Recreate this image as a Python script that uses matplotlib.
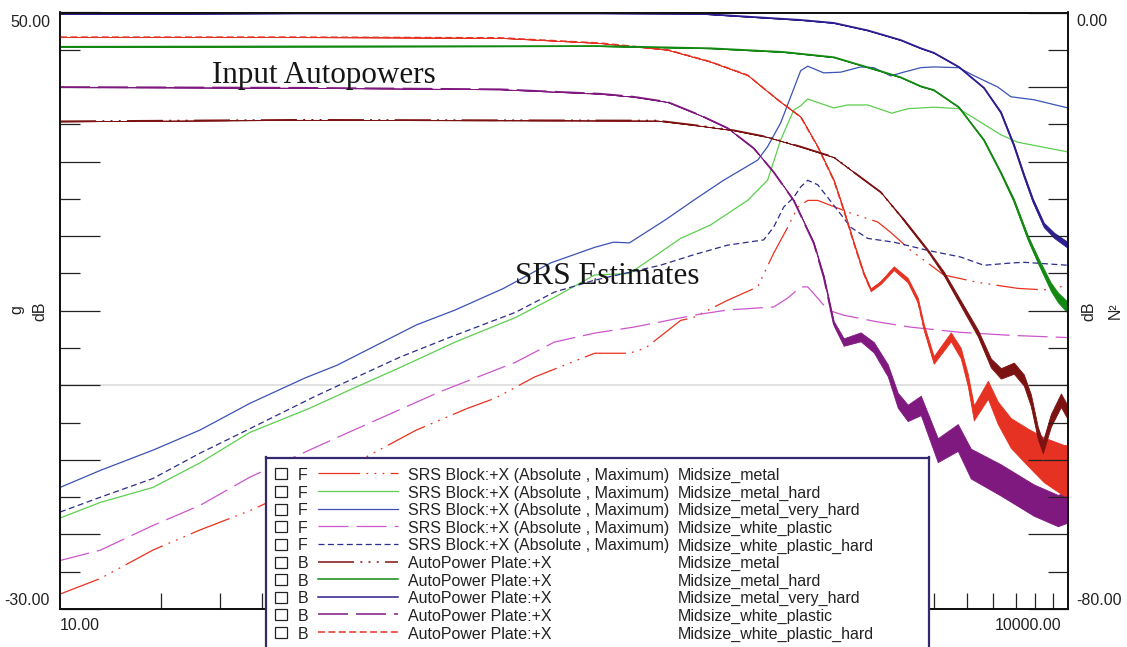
import numpy as np
import matplotlib
matplotlib.use("Agg")
import matplotlib.pyplot as plt
from matplotlib.ticker import FixedLocator, NullFormatter
from matplotlib.patches import Rectangle

plt.rcParams['font.family'] = ['Liberation Sans', 'DejaVu Sans']
plt.rcParams['lines.scale_dashes'] = False

# ---------------- SRS estimates (left axis, dB re g) ----------------
srs_metal_hz = [10, 13.2, 18.9, 26.1, 36.8, 80, 115, 163, 198, 258, 390, 495, 553, 703, 768,
                970, 1192, 1330, 1465, 1569, 1680, 1799, 2256, 2716, 2968, 3404, 4269, 5391,
                7089, 8475, 10000]
srs_metal_db = [-28.0, -25.9, -22.1, -19.4, -16.8, -9.8, -6.0, -3.1, -1.7, 1.1, 4.3, 4.3, 5.0,
                8.7, 9.1, 11.4, 13.2, 17.7, 21.2, 23.9, 24.8, 24.8, 23.1, 21.9, 20.5, 18.1,
                14.8, 13.8, 13.0, 12.8, 13.4]

srs_metal_hard_hz = [10, 13.2, 18.9, 26.1, 36.8, 55.2, 72.6, 103, 150, 227, 296, 390, 495, 584,
                     703, 863, 1113, 1276, 1396, 1526, 1601, 1680, 2008, 2210, 2535, 2989, 3334,
                     3647, 3985, 4732, 6312, 7089, 8303, 10000]
srs_metal_hard_db = [-17.8, -15.7, -13.7, -10.4, -6.3, -3.1, -0.65, 2.4, 5.8, 9.1, 11.8, 14.8,
                     15.0, 17.2, 19.7, 21.5, 24.8, 27.5, 32.9, 36.9, 37.5, 38.4, 37.2, 37.6,
                     37.6, 36.5, 37.1, 37.2, 37.3, 37.1, 33.6, 32.6, 32.0, 31.3]

srs_very_hard_hz = [10, 13.2, 18.9, 26.1, 36.8, 53.7, 66.8, 115, 150, 209, 288, 390, 444, 495,
                    634, 768, 944, 1192, 1276, 1396, 1495, 1601, 1680, 1875, 2107, 2415, 2642,
                    2968, 3244, 3647, 3985, 4732, 5209, 6183, 6760, 7913, 10000]
srs_very_hard_db = [-13.7, -11.4, -8.7, -6.0, -2.4, 1.0, 2.7, 8.1, 10.1, 13.0, 16.4, 18.5, 19.2,
                    19.1, 22.2, 24.8, 27.5, 30.2, 32.0, 35.2, 38.7, 42.2, 42.8, 41.9, 42.0, 42.7,
                    42.6, 41.5, 42.0, 42.6, 42.7, 42.6, 41.6, 40.0, 38.7, 38.3, 37.2]

srs_white_plastic_hz = [10, 13.2, 18.9, 26.1, 36.8, 66.8, 134.6, 227, 296, 390, 509, 612, 768,
                        970, 1217, 1330, 1465, 1601, 1680, 1799, 1927, 2150, 2716, 3404, 4797,
                        6760, 10000]
srs_white_plastic_db = [-23.5, -22.1, -18.8, -16.1, -12.3, -7.0, -0.9, 3.1, 5.8, 7.0, 7.8, 8.5,
                        9.4, 10.1, 10.4, 10.5, 11.7, 13.2, 13.2, 11.7, 10.1, 9.4, 8.5, 7.8, 7.1,
                        6.7, 6.4]

srs_white_plastic_hard_hz = [10, 13.2, 18.9, 26.1, 36.8, 56.7, 70.6, 103, 142, 227, 296, 390,
                             612, 768, 970, 1242, 1330, 1425, 1526, 1601, 1680, 1799, 1927,
                             2256, 2535, 3030, 3823, 4797, 5618, 6760, 7388, 10000]
srs_white_plastic_hard_db = [-17.0, -15.0, -12.5, -9.1, -5.8, -1.6, 0.4, 3.8, 6.3, 9.8, 12.5,
                             14.1, 16.1, 17.5, 18.8, 19.5, 21.2, 23.9, 25.2, 26.6, 27.5, 26.9,
                             25.2, 21.2, 19.7, 19.2, 18.1, 17.2, 16.1, 16.4, 16.5, 16.1]

# ---------------- Input autopowers (right axis, dB re N^2) ----------------
ap_metal_hz = [10, 52, 600, 806, 1011, 1276, 1601, 2008, 2415, 2772, 3244, 3823, 4269, 4797,
               5391, 5894, 6312, 6900, 7388, 7752, 8133, 8417, 8892, 9524, 10000]
ap_metal_db = [-14.6, -14.4, -14.5, -15.2, -15.8, -16.7, -18.0, -19.4, -22.1, -24.1, -27.8,
               -31.9, -35.0, -39.0, -43.0, -47.0, -48.4, -47.7, -49.3, -52.0, -56.4, -58.3,
               -54.7, -52.0, -53.7]
ap_metal_spread = [0, 0, 0, 0, 0, 0, 0, 0, 0, 0, 0.1, 0.15, 0.25, 0.35, 0.45, 0.6, 0.7, 0.75,
                   0.75, 0.8, 0.8, 0.8, 0.85, 0.9, 0.9]

ap_metal_hard_hz = [10, 400, 863, 1425, 2008, 2830, 3178, 3647, 3985, 4732, 5618, 6312, 6900,
                    7593, 8133, 8892, 9330, 10000]
ap_metal_hard_db = [-4.6, -4.5, -4.8, -5.3, -6.0, -8.0, -8.7, -9.9, -10.4, -12.7, -17.1, -21.5,
                    -25.2, -30.2, -33.2, -36.8, -38.2, -39.6]
ap_metal_hard_spread = [0, 0, 0, 0, 0, 0, 0, 0, 0, 0, 0.05, 0.1, 0.2, 0.3, 0.4, 0.55, 0.65, 0.75]

ap_very_hard_hz = [10, 50, 400, 800, 1061, 1601, 2008, 2535, 3178, 3647, 3985, 4732, 5618, 6312,
                   6900, 7388, 7860, 8475, 9100, 10000]
ap_very_hard_db = [-0.2, -0.1, -0.1, -0.15, -0.5, -1.0, -1.4, -2.4, -3.7, -4.8, -5.4, -7.3,
                   -10.1, -13.4, -17.8, -21.8, -25.2, -28.5, -29.9, -31.2]
ap_very_hard_spread = [0, 0, 0, 0, 0, 0, 0, 0, 0, 0, 0, 0, 0, 0.1, 0.15, 0.2, 0.25, 0.3, 0.35, 0.4]

ap_white_plastic_hz = [10, 52, 204, 406, 509, 643, 806, 970, 1160, 1330, 1526, 1750, 1875, 2008,
                       2150, 2415, 2642, 2908, 3114, 3334, 3647, 4096, 4699, 5138, 6312, 7913,
                       9330, 10000]
ap_white_plastic_db = [-10.0, -10.1, -10.3, -10.9, -11.3, -12.0, -13.8, -15.5, -18.2, -21.4,
                       -25.2, -30.9, -35.5, -41.7, -44.2, -43.5, -44.9, -48.0, -52.0, -53.7,
                       -52.7, -58.7, -57.0, -60.5, -62.7, -65.4, -66.8, -66.3]
ap_white_plastic_spread = [0, 0, 0, 0, 0, 0, 0, 0, 0, 0, 0, 0.1, 0.2, 0.3, 0.5, 0.6, 0.7, 0.8,
                           1.0, 1.1, 1.3, 1.6, 1.8, 2.0, 2.1, 2.1, 2.1, 2.1]

ap_white_plastic_hard_hz = [10, 52, 204, 406, 643, 863, 1113, 1368, 1601, 1799, 2008, 2150, 2303,
                            2466, 2588, 2772, 3030, 3334, 3572, 3722, 3985, 4479, 4797, 5033,
                            5245, 5774, 6183, 6760, 7593, 8475, 9721, 10000]
ap_white_plastic_hard_db = [-3.3, -3.3, -3.4, -4.1, -5.0, -6.6, -8.4, -11.7, -14.0, -18.0,
                            -22.5, -26.5, -30.9, -35.0, -37.2, -36.2, -34.3, -35.9, -38.6, -42.2,
                            -46.6, -43.5, -45.7, -49.3, -53.7, -50.6, -53.7, -56.4, -58.3,
                            -60.0, -61.4, -61.4]
ap_white_plastic_hard_spread = [0, 0, 0, 0, 0, 0, 0, 0, 0, 0, 0.1, 0.1, 0.12, 0.15, 0.18, 0.2,
                                0.25, 0.3, 0.35, 0.4, 0.5, 0.6, 0.7, 0.8, 1.0, 1.2, 1.5, 2.0,
                                2.5, 3.0, 3.4, 3.4]

specimens = ["Midsize_metal", "Midsize_metal_hard", "Midsize_metal_very_hard",
             "Midsize_white_plastic", "Midsize_white_plastic_hard"]
srs_name = "SRS Block:+X (Absolute , Maximum)"
ap_name = "AutoPower Plate:+X"

x_ticks_minor = [20, 30, 40, 50, 60, 70, 80, 90, 200, 300, 400, 500, 600, 700, 800, 900,
                 2000, 3000, 4000, 5000, 6000, 7000, 8000, 9000]
x_ticks_major = [100, 1000]

# ---------------- styles ----------------
DASHDOTDOT_S = (30, 4.5, 1.3, 4.5, 1.3, 4.5, 1.3, 4.5)
DASHDOTDOT_B = (26, 4.5, 1.4, 4.5, 1.4, 4.5, 1.4, 4.5)
LONGDASH = (21.6, 5.8)
SHORTDASH_S = (4.3, 2.5)
SHORTDASH_B = (5.0, 2.5)

srs_styles = [
    dict(color='#e8321e', lw=0.9, dashes=DASHDOTDOT_S),
    dict(color='#5ccf4e', lw=0.9, dashes=None),
    dict(color='#3b52b4', lw=0.9, dashes=None),
    dict(color='#cc55cc', lw=0.9, dashes=LONGDASH),
    dict(color='#2c2c8c', lw=0.9, dashes=SHORTDASH_S),
]
ap_styles = [
    dict(color='#7d1212', lw=1.3, dashes=DASHDOTDOT_B),
    dict(color='#138913', lw=1.3, dashes=None),
    dict(color='#2d1f8f', lw=1.3, dashes=None),
    dict(color='#80197f', lw=1.3, dashes=LONGDASH),
    dict(color='#e53222', lw=1.1, dashes=SHORTDASH_B),
]

srs_series = [(srs_metal_hz, srs_metal_db), (srs_metal_hard_hz, srs_metal_hard_db),
              (srs_very_hard_hz, srs_very_hard_db), (srs_white_plastic_hz, srs_white_plastic_db),
              (srs_white_plastic_hard_hz, srs_white_plastic_hard_db)]
ap_series = [(ap_metal_hz, ap_metal_db, ap_metal_spread),
             (ap_metal_hard_hz, ap_metal_hard_db, ap_metal_hard_spread),
             (ap_very_hard_hz, ap_very_hard_db, ap_very_hard_spread),
             (ap_white_plastic_hz, ap_white_plastic_db, ap_white_plastic_spread),
             (ap_white_plastic_hard_hz, ap_white_plastic_hard_db, ap_white_plastic_hard_spread)]


def line_kw(st):
    kw = dict(color=st['color'], lw=st['lw'])
    if st['dashes'] is not None:
        kw['dashes'] = st['dashes']
    return kw


W, H = 1127, 647
fig = plt.figure(figsize=(W / 100, H / 100), dpi=100)


def fxy(x, y):
    return x / W, 1 - y / H


AX_L, AX_R, AX_T, AX_B = 60, 1068, 12.5, 609
ax = fig.add_axes([AX_L / W, (H - AX_B) / H, (AX_R - AX_L) / W, (AX_B - AX_T) / H])
ax.set_xscale('log')
ax.set_xlim(10, 10000)
ax.set_ylim(-30, 50)
ax2 = ax.twinx()
ax2.set_ylim(-80, 0)

# reference line at 0 dB (left scale)
ax.axhline(0, color='#dddddd', lw=1.2, zorder=0)

for (hz, db), st in zip(srs_series, srs_styles):
    ax.plot(hz, db, solid_capstyle='butt', dash_capstyle='butt', **line_kw(st))

draw_order = [3, 4, 0, 1, 2]
for i in draw_order:
    hz, db, sp = ap_series[i]
    st = ap_styles[i]
    hz = np.array(hz, float)
    db = np.array(db, float)
    sp = np.array(sp, float)
    ax2.plot(hz, db, dash_capstyle='butt', **line_kw(st))
    ax2.fill_between(hz, db - sp, db + sp, color=st['color'], lw=0.6, edgecolor=st['color'])

# axes frame and ticks
for a in (ax, ax2):
    for s in a.spines.values():
        s.set_linewidth(1.3)
        s.set_color('#111111')

ax.yaxis.set_major_locator(FixedLocator(np.arange(-30, 51, 10)))
ax.yaxis.set_minor_locator(FixedLocator(np.arange(-25, 50, 10)))
ax.tick_params(axis='y', which='major', direction='in', length=28.8, width=0.9,
               color='#222222', left=True, right=False, labelleft=False)
ax.tick_params(axis='y', which='minor', direction='in', length=14.4, width=0.9,
               color='#222222', left=True, right=False)
ax2.yaxis.set_major_locator(FixedLocator(np.arange(-80, 1, 10)))
ax2.yaxis.set_minor_locator(FixedLocator(np.arange(-75, 0, 10)))
ax2.tick_params(axis='y', which='major', direction='in', length=28.8, width=0.9,
                color='#222222', right=True, left=False, labelright=False)
ax2.tick_params(axis='y', which='minor', direction='in', length=14.4, width=0.9,
                color='#222222', right=True, left=False)
ax.xaxis.set_major_locator(FixedLocator(x_ticks_major))
ax.xaxis.set_minor_locator(FixedLocator(x_ticks_minor))
ax.xaxis.set_minor_formatter(NullFormatter())
ax.tick_params(axis='x', which='both', direction='in', length=11.5, width=0.9,
               color='#222222', top=False, labelbottom=False)

# tick labels and axis titles
TXT = dict(fontsize=11.5, color='#222222')
fig.text(*fxy(50, 27), "50.00", ha='right', va='baseline', **TXT)
fig.text(*fxy(50, 605), "-30.00", ha='right', va='baseline', **TXT)
fig.text(*fxy(1076, 26), "0.00", ha='left', va='baseline', **TXT)
fig.text(*fxy(1076, 605), "-80.00", ha='left', va='baseline', **TXT)
fig.text(*fxy(60, 630), "10.00", ha='left', va='baseline', **TXT)
fig.text(*fxy(1061, 630), "10000.00", ha='right', va='baseline', **TXT)
fig.text(*fxy(17, 310), "g", rotation=90, ha='center', va='center', **TXT)
fig.text(*fxy(40, 311), "dB", rotation=90, ha='center', va='center', **TXT)
fig.text(*fxy(1089, 311), "dB", rotation=90, ha='center', va='center', **TXT)
fig.text(*fxy(1115, 311), "N²", rotation=90, ha='center', va='center', **TXT)

SERIF = dict(family=['Liberation Serif', 'DejaVu Serif'], fontsize=22.4, color='#161616')
fig.text(*fxy(212, 83), "Input Autopowers", ha='left', va='baseline', **SERIF)
fig.text(*fxy(515, 284), "SRS Estimates", ha='left', va='baseline', **SERIF)

# legend panel
LG_L, LG_R, LG_T, LG_B = 266, 929, 457.5, 652
lax = fig.add_axes([LG_L / W, (H - LG_B) / H, (LG_R - LG_L) / W, (LG_B - LG_T) / H])
lax.set_zorder(10)
lax.set_xlim(LG_L, LG_R)
lax.set_ylim(LG_B, LG_T)
lax.set_xticks([])
lax.set_yticks([])
lax.set_facecolor('white')
for s in lax.spines.values():
    s.set_color('#34286e')
    s.set_linewidth(1.6)

rows = ([('F', srs_styles[i], srs_name, specimens[i]) for i in range(5)] +
        [('B', ap_styles[i], ap_name, specimens[i]) for i in range(5)])
row0, row_dy = 474.0, 17.62
for k, (flag, st, name, spec) in enumerate(rows):
    yc = row0 + k * row_dy
    lax.add_patch(Rectangle((274.5, yc - 5.5), 12.5, 11, fill=False, edgecolor='#222222', lw=0.9))
    lax.text(298, yc + 6, flag, ha='left', va='baseline', **TXT)
    kw = line_kw(st)
    kw['lw'] = min(st['lw'], 1.1)
    lax.plot([318, 398], [yc - 0.5, yc - 0.5], dash_capstyle='butt', **kw)
    lax.text(408, yc + 6, name, ha='left', va='baseline', **TXT)
    lax.text(678, yc + 6, spec, ha='left', va='baseline', **TXT)

fig.savefig("out.png", dpi=100)
